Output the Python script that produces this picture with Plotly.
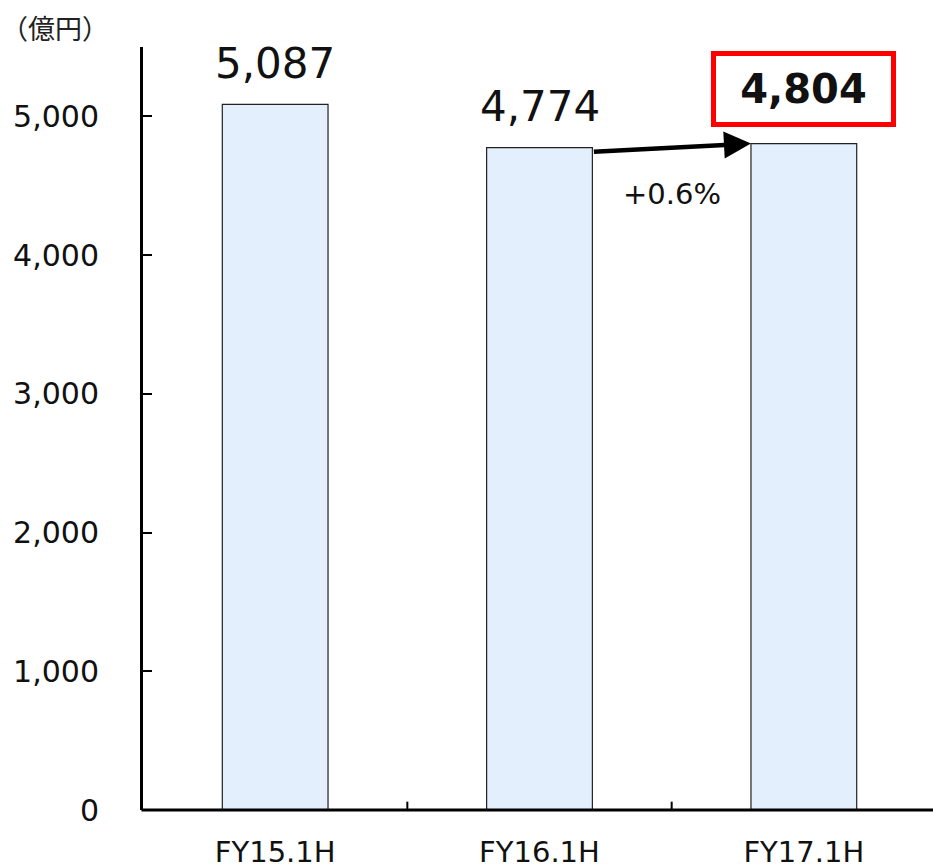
import plotly.graph_objects as go

categories = ["FY15.1H", "FY16.1H", "FY17.1H"]
values = [5087, 4774, 4804]
value_labels = ["5,087", "4,774", "4,804"]
growth_label = "+0.6%"
unit_label = "（億円）"
y_ticks = [0, 1000, 2000, 3000, 4000, 5000]
y_tick_labels = ["0", "1,000", "2,000", "3,000", "4,000", "5,000"]

FONT = "DejaVu Sans, Verdana, sans-serif"

fig = go.Figure()
fig.add_trace(go.Bar(
    x=list(range(len(categories))),
    y=values,
    width=0.4,
    marker=dict(color="#E3EFFD", line=dict(color="#222222", width=1.2)),
    hoverinfo="skip",
))

annotations = []
for i, (v, lab) in enumerate(zip(values, value_labels)):
    if i < len(values) - 1:
        annotations.append(dict(
            x=i, y=v, xref="x", yref="y", text=lab, showarrow=False,
            yanchor="middle", yshift=41,
            font=dict(family=FONT, size=42, color="#111111"),
        ))
    else:
        annotations.append(dict(
            x=i, y=v, xref="x", yref="y", text="<b>" + lab + "</b>", showarrow=False,
            yanchor="middle", yshift=55, width=167, height=58,
            bordercolor="#FF0000", borderwidth=5, borderpad=4,
            font=dict(family=FONT, size=40, color="#111111"),
        ))

# growth arrow from FY16 bar top-right to FY17 bar top-left
annotations.append(dict(
    x=2 - 0.2, y=values[2], ax=1 + 0.2, ay=values[1] - 30,
    xref="x", yref="y", axref="x", ayref="y",
    text="", showarrow=True, arrowhead=2, arrowsize=1.2, arrowwidth=4.5,
    arrowcolor="#000000", standoff=0,
))
annotations.append(dict(
    x=1.5, y=values[1], xref="x", yref="y", text=growth_label, showarrow=False,
    yanchor="middle", yshift=-46,
    font=dict(family=FONT, size=29, color="#111111"),
))
annotations.append(dict(
    xref="paper", yref="paper", x=-0.111, y=1.025, xanchor="center", yanchor="middle",
    text=unit_label, showarrow=False,
    font=dict(family="Noto Sans CJK JP, sans-serif", size=27, color="#222222"),
))

fig.update_layout(
    width=936, height=868,
    margin=dict(l=143, r=0, t=47, b=58),
    paper_bgcolor="white", plot_bgcolor="white",
    showlegend=False,
    annotations=annotations,
)
fig.update_xaxes(
    tickmode="array", tickvals=list(range(len(categories))), ticktext=categories,
    range=[-0.5, 2.5],
    showline=False,
    ticks="", showgrid=False, zeroline=False, automargin=False,
    tickfont=dict(family=FONT, size=29, color="#111111"),
    ticklabelstandoff=22,
)
fig.update_yaxes(
    range=[0, 5500],
    tickmode="array", tickvals=y_ticks, ticktext=y_tick_labels,
    showline=True, linecolor="#000000", linewidth=3,
    ticks="inside", ticklen=9, tickwidth=2, tickcolor="#000000",
    showgrid=False, zeroline=False, automargin=False,
    tickfont=dict(family=FONT, size=30, color="#111111"),
    ticklabelstandoff=35,
)
# category separators (inward tick marks between categories)
for b in [0.5, 1.5]:
    fig.add_shape(type="line", xref="x", yref="y", x0=b, x1=b, y0=0, y1=60,
                  line=dict(color="#000000", width=2))
# baseline (x axis line) running from the y axis to the right edge
fig.add_shape(type="line", xref="paper", yref="paper", x0=-0.002, x1=1, y0=0, y1=0,
              line=dict(color="#000000", width=3))

fig.write_html(
    "out.html",
    config={"displayModeBar": False},
    post_script=(
        "document.body.style.margin='0';"
        "document.body.style.overflow='hidden';"
        "document.documentElement.style.overflow='hidden';"
    ),
)
